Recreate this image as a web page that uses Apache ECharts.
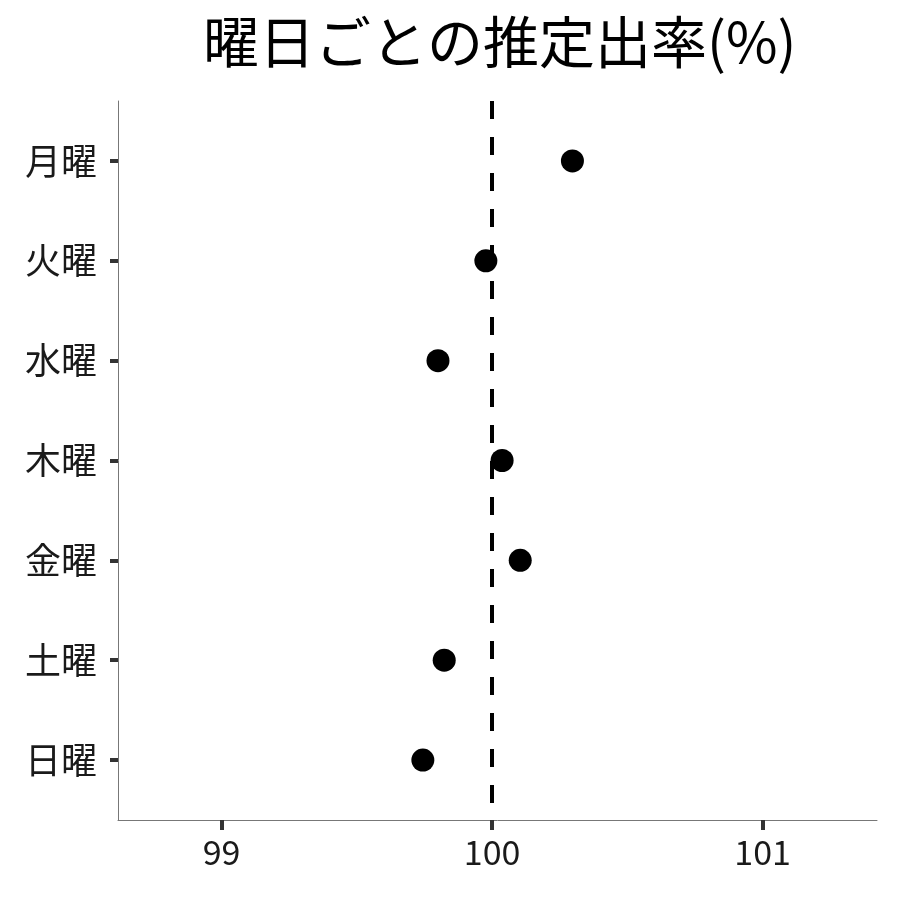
<!DOCTYPE html>
<html>
<head>
<meta charset="utf-8">
<script src="https://cdn.jsdelivr.net/npm/echarts@6/dist/echarts.min.js"></script>
<style>
  html, body { margin: 0; padding: 0; background: #fff; }
  #main { width: 900px; height: 900px; }
</style>
</head>
<body>
<div id="main"></div>
<script>
// 曜日ごとの推定出率
var days = ['月曜', '火曜', '水曜', '木曜', '金曜', '土曜', '日曜'];
var rates = [100.297, 99.977, 99.80, 100.037, 100.104, 99.823, 99.744];
var xTicks = [99, 100, 101];
var dayTicks = [1, 2, 3, 4, 5, 6, 7];
var refValue = 100;

var font = '"Noto Sans CJK JP", "Noto Sans", sans-serif';
var chart = echarts.init(document.getElementById('main'));

var points = rates.map(function (v, i) { return [v, i + 1]; });

var option = {
    animation: false,
    backgroundColor: '#fff',
    graphic: [{
        type: 'text',
        left: 203,
        top: 14,
        style: {
            text: '曜日ごとの推定出率(%)',
            font: '56px ' + font,
            fill: '#000'
        }
    }],
    grid: { left: 118, right: 23, top: 101, bottom: 80 },
    xAxis: {
        type: 'value',
        position: 'bottom',
        min: 98.617,
        max: 101.423,
        splitLine: { show: false },
        axisLine: { show: true, onZero: false, lineStyle: { color: '#777', width: 1 } },
        axisTick: { show: true, inside: false, customValues: xTicks, length: 10, lineStyle: { color: 'rgb(51,51,51)', width: 4 } },
        axisLabel: {
            customValues: xTicks,
            margin: 15,
            fontSize: 34,
            fontFamily: font,
            color: '#1a1a1a'
        }
    },
    yAxis: {
        type: 'value',
        inverse: true,
        min: 0.4,
        max: 7.6,
        splitLine: { show: false },
        axisLine: { show: true, onZero: false, lineStyle: { color: '#777', width: 1 } },
        axisTick: { show: true, customValues: dayTicks, length: 8, lineStyle: { color: '#333', width: 4 } },
        axisLabel: {
            customValues: dayTicks,
            margin: 21,
            fontSize: 36,
            fontFamily: font,
            color: '#1a1a1a',
            formatter: function (v) { return days[Math.round(v) - 1] || ''; }
        }
    },
    series: [{
        type: 'scatter',
        data: points,
        symbolSize: 23,
        itemStyle: { color: '#000', opacity: 1 },
        markLine: {
            silent: true,
            symbol: 'none',
            label: { show: false },
            lineStyle: { color: '#000', width: 4, type: [18, 18] },
            data: [{ xAxis: refValue }]
        },
        z: 3
    }]
};

chart.setOption(option);
</script>
</body>
</html>
